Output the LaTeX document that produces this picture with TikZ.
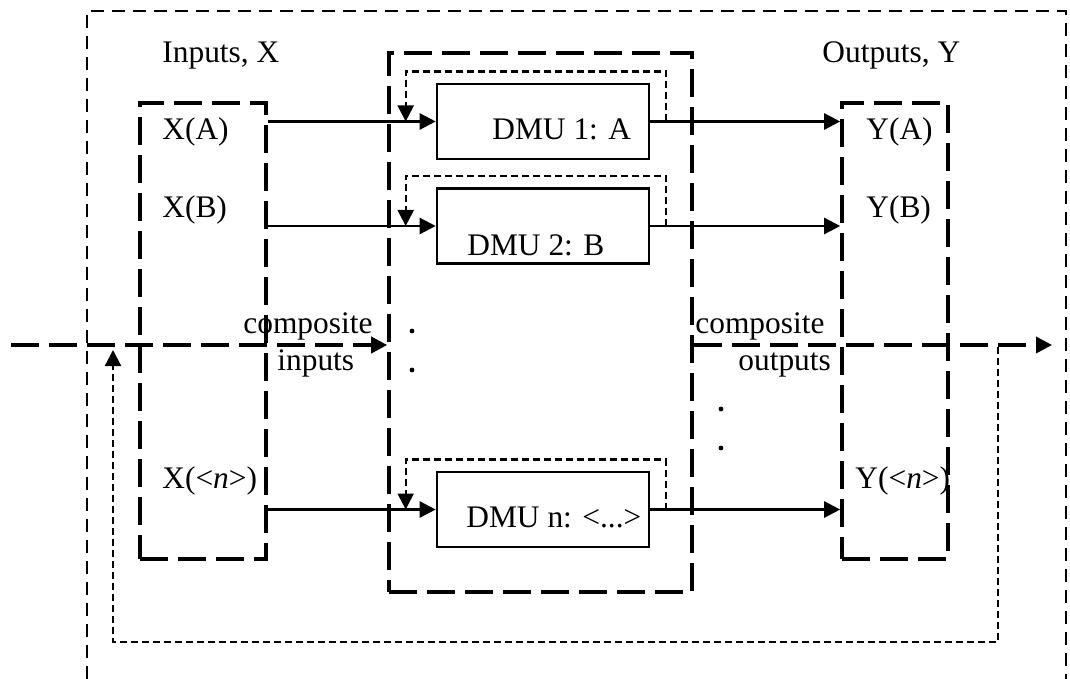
\documentclass[tikz,border=0pt]{standalone}
\usepackage{fontspec}
\setmainfont{Liberation Serif}
\usetikzlibrary{arrows.meta, calc}

\tikzset{
  bigdash/.style={line width=1.8pt, dash pattern=on 14pt off 5pt},
  thindash/.style={line width=0.9pt, dash pattern=on 6.5pt off 4pt},
  loopdash/.style={line width=1.1pt, dash pattern=on 3.5pt off 2pt},
  groupbox/.style={draw, bigdash, inner sep=0pt},
  dmubox/.style={draw, line width=1.3pt, minimum width=106pt, minimum height=37.5pt, inner sep=0pt},
  txt/.style={inner sep=0pt, anchor=base west, font=\fontsize{15.7}{18}\selectfont},
  arr/.style={-{Triangle[length=8pt,width=8pt]}},
  flow/.style={line width=1.2pt, arr}
}

\begin{document}
\begin{tikzpicture}[x=0.5pt, y=-0.5pt]
        \useasboundingbox (0,0) rectangle (1070,679);
        \draw[thindash] (87,679) -- (87,11) -- (1066,11) -- (1066,679);

        \node[groupbox, minimum width=63pt, minimum height=228pt] (inbox) at (203,331) {};
        \node[groupbox, minimum width=151.5pt, minimum height=269.5pt] (midbox) at (540.5,322.5) {};
        \node[groupbox, minimum width=53pt, minimum height=228pt] (outbox) at (895,331) {};

        \node[dmubox] (dmu1) at (543,121.5) {};
        \node[dmubox] (dmu2) at (543,226) {};
        \node[dmubox] (dmun) at (543,509.5) {};

        \node[txt] at (162,63) {Inputs, X};
        \node[txt] at (822,63) {Outputs, Y};
        \node[txt] at (162,140) {X(A)};
        \node[txt] at (162,218) {X(B)};
        \node[txt] at (162,488) {X(<\textit{n}>)};
        \node[txt] at (866,140) {Y(A)};
        \node[txt] at (866,218) {Y(B)};
        \node[txt] at (855,488) {Y(<\textit{n}>)};
        \node[txt] at (492,140) {DMU 1: A};
        \node[txt] at (467,256) {DMU 2: B};
        \node[txt] at (466,527) {DMU n: <...>};

        \foreach \d in {dmu1, dmu2, dmun} {
            \draw[flow] (inbox.east |- \d.west) -- (\d.west);
            \draw[flow] (\d.east) -- (outbox.west |- \d.east);
            \draw[loopdash, arr] ([xshift=8pt]\d.east) -- ++(0,-50) -| ([xshift=-15pt]\d.west);
        }

        \coordinate (mainL) at (11,345);
        \coordinate (mainR) at (1052,345);
        \draw[bigdash, arr] (mainL) -- (mainL -| midbox.west);
        \draw[bigdash, arr] (mainR -| midbox.east) -- (mainR);

        \node[txt] at (243,333) {composite};
        \node[txt] at (277,370) {inputs};
        \node[txt] at (695,333) {composite};
        \node[txt] at (738,370) {outputs};

        \coordinate (fbR) at (998,347);
        \coordinate (fbB) at (113,642);
        \coordinate (fbL) at (113,350);
        \draw[loopdash, arr] (fbR) |- (fbB) -- (fbL);

        \foreach \p in {(412,331), (412,370), (721,409), (721,448)}
            \fill \p circle (1.2pt);
\end{tikzpicture}
\end{document}
